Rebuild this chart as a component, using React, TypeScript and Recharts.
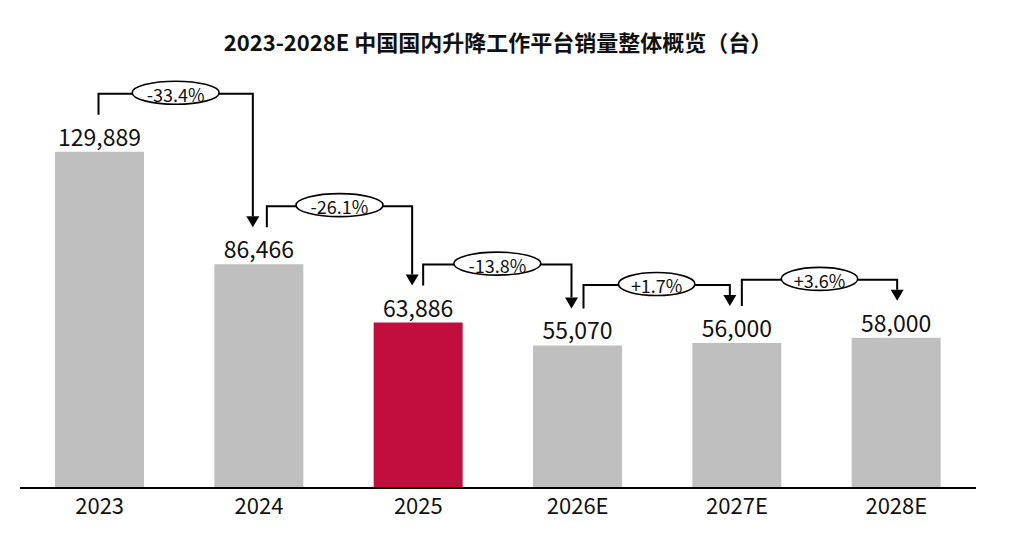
import React from 'react';
import { BarChart, Bar, XAxis, YAxis, LabelList, Rectangle } from 'recharts';

// categories and sales volume (units)
const years = ['2023', '2024', '2025', '2026E', '2027E', '2028E'];
const sales = [129889, 86466, 63886, 55070, 56000, 58000];
const growthLabels = ['-33.4%', '-26.1%', '-13.8%', '+1.7%', '+3.6%'];
const highlightYear = '2025';

const data = years.map((year, i) => ({ year, sales: sales[i] }));

const W = 1024;
const H = 543;
const MARGIN = { top: 22, right: 48, left: 20, bottom: 0 };
const STEP = (W - MARGIN.left - MARGIN.right) / years.length;
const FONT = '"Noto Sans CJK SC", "Noto Sans", sans-serif';

// small horizontal nudges of the bracket legs (style only)
const legStart = [-1, 8, 5, 6, 5];
const legEnd = [-6, -6, -6, -7, 1];

const GRAY = '#BFBFBF';
const RED = '#C20E3E';

const Connector = ({ x1, x2, y1, y2, level, label }: any) => {
  const head = 11;
  const rx = 12 + label.length * 5.25;
  const mid = (x1 + x2) / 2;
  return (
    <g>
      <polyline
        points={`${x1},${y1} ${x1},${level} ${x2},${level} ${x2},${y2 - head}`}
        fill="none"
        stroke="#000"
        strokeWidth={2}
      />
      <polygon points={`${x2 - 6.5},${y2 - head} ${x2 + 6.5},${y2 - head} ${x2},${y2}`} fill="#000" />
      <ellipse cx={mid} cy={level - 1} rx={rx} ry={11.5} fill="#fff" stroke="#000" strokeWidth={1.6} />
      <text
        x={mid}
        y={level}
        textAnchor="middle"
        dominantBaseline="central"
        fontSize={18}
        fontFamily={FONT}
        fill="#111"
      >
        {label}
      </text>
    </g>
  );
};

const BarShape = (props: any) => {
  const { x, y, width, height, index, payload } = props;
  const fill = payload.year === highlightYear ? RED : GRAY;
  let connector = null;
  if (index < sales.length - 1) {
    const baseY = y + height;
    const nextTop = baseY - (height * sales[index + 1]) / sales[index];
    const cx = x + width / 2;
    connector = (
      <Connector
        x1={cx + legStart[index]}
        x2={cx + STEP + legEnd[index]}
        y1={y - 37}
        y2={nextTop - 37}
        level={Math.min(y, nextTop) - 58}
        label={growthLabels[index]}
      />
    );
  }
  return (
    <g>
      <Rectangle x={x} y={y} width={width} height={height} fill={fill} />
      {connector}
    </g>
  );
};

export default function App() {
  return (
    <div style={{ position: 'absolute', left: 0, top: 0, width: W, height: H, background: '#fff' }}>
      <div
        style={{
          position: 'absolute',
          top: 28,
          left: 0,
          width: 996,
          textAlign: 'center',
          fontFamily: FONT,
          fontWeight: 700,
          fontSize: 22,
          lineHeight: '26px',
          color: '#111',
        }}
      >
        2023-2028E 中国国内升降工作平台销量整体概览（台）
      </div>
      <BarChart width={W} height={H} data={data} margin={MARGIN}>
        <XAxis
          dataKey="year"
          height={55}
          tickLine={false}
          tickMargin={4}
          axisLine={{ stroke: '#000', strokeWidth: 2 }}
          tick={{ fontSize: 22, fill: '#111', fontFamily: FONT }}
        />
        <YAxis hide domain={[0, 180000]} />
        <Bar dataKey="sales" barSize={89} shape={<BarShape />} isAnimationActive={false}>
          <LabelList
            dataKey="sales"
            position="top"
            offset={6}
            formatter={(v: any) => Number(v).toLocaleString('en-US')}
            style={{ fontSize: 23, fill: '#111', fontFamily: FONT }}
          />
        </Bar>
      </BarChart>
    </div>
  );
}
